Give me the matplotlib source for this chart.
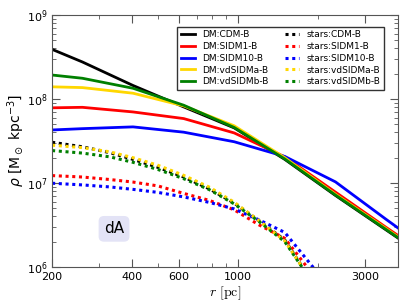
"""Density profiles of DM and stars for the dA halo."""
import matplotlib
matplotlib.use('Agg')
import matplotlib.pyplot as plt
import numpy as np

# radii [pc] and log10 densities [Msun kpc^-3]
R_DM = [168, 260, 403, 625, 968, 1500, 2327, 3607, 5590]
DM = {
    'CDM-B':     [8.69, 8.44, 8.16, 7.905, 7.655, 7.28, 6.85, 6.44, 6.03],
    'SIDM1-B':   [7.89, 7.90, 7.845, 7.766, 7.595, 7.31, 6.89, 6.47, 6.06],
    'SIDM10-B':  [7.62, 7.646, 7.667, 7.604, 7.49, 7.315, 7.012, 6.566, 6.13],
    'vdSIDMa-B': [8.15, 8.135, 8.068, 7.917, 7.68, 7.30, 6.865, 6.455, 6.04],
    'vdSIDMb-B': [8.31, 8.246, 8.127, 7.925, 7.66, 7.285, 6.855, 6.445, 6.035],
}

R_ST = [200, 260, 330, 403, 500, 625, 780, 968, 1200, 1500, 1900, 2327]
STARS = {
    'CDM-B':     [7.484, 7.43, 7.36, 7.28, 7.185, 7.07, 6.93, 6.76, 6.55, 6.32, 5.82, 5.5],
    'SIDM1-B':   [7.087, 7.07, 7.04, 7.01, 6.964, 6.875, 6.792, 6.679, 6.50, 6.34, 5.92, 5.6],
    'SIDM10-B':  [6.996, 6.976, 6.952, 6.923, 6.887, 6.833, 6.768, 6.69, 6.56, 6.41, 6.01, 5.7],
    'vdSIDMa-B': [7.449, 7.42, 7.37, 7.30, 7.21, 7.09, 6.95, 6.77, 6.55, 6.31, 5.82, 5.5],
    'vdSIDMb-B': [7.385, 7.355, 7.31, 7.245, 7.16, 7.05, 6.92, 6.75, 6.54, 6.30, 5.82, 5.5],
}

COLORS = {'CDM-B': 'k', 'SIDM1-B': 'r', 'SIDM10-B': 'b',
          'vdSIDMa-B': '#ffd700', 'vdSIDMb-B': 'g'}
XTICKS = [200, 400, 600, 1000, 3000]


def plot():
    fig = plt.figure(figsize=(4.07, 3.05), dpi=100)
    ax = fig.add_axes([0.128, 0.125, 0.85, 0.826])

    # DM first, then stars, so the legend fills column by column
    for name, vals in DM.items():
        ax.plot(R_DM, 10**np.array(vals), color=COLORS[name], lw=2,
                label='DM:' + name)
    for name, vals in STARS.items():
        ax.plot(R_ST, 10**np.array(vals), color=COLORS[name], lw=2.2,
                linestyle=(0, (1, 1.2)), label='stars:' + name)

    ax.set_xscale('log')
    ax.set_yscale('log')
    ax.set_xlim(200, 4000)
    ax.set_ylim(1e6, 1e9)
    ax.set_xticks(XTICKS)
    ax.set_xticklabels([str(t) for t in XTICKS])
    ax.xaxis.set_minor_formatter(matplotlib.ticker.NullFormatter())

    ax.tick_params(which='both', direction='in', top=True, right=True,
                   labelsize=8, color='#555555')
    ax.tick_params(which='major', length=6)
    ax.tick_params(which='minor', length=3)
    for sp in ax.spines.values():
        sp.set_color('#555555')

    ax.set_xlabel(r'$r\ [\mathrm{pc}]$', fontsize=10, math_fontfamily='cm',
                  labelpad=2)
    ax.set_ylabel(r'$\rho$ [M$_\odot$ kpc$^{-3}$]', fontsize=10, labelpad=0)

    ax.text(0.179, 0.151, 'dA', transform=ax.transAxes, fontsize=11,
            ha='center', va='center',
            bbox=dict(boxstyle='round,pad=0.35', facecolor='#e3e3f6',
                      edgecolor='none'))

    leg = ax.legend(ncol=2, fontsize=6.5, loc='upper right',
                    bbox_to_anchor=(0.96, 0.953), borderaxespad=0,
                    fancybox=False, framealpha=1, handlelength=1.6,
                    columnspacing=1.8, labelspacing=0.3, handletextpad=0.8,
                    borderpad=0.4)
    leg.get_frame().set_edgecolor('#333333')

    fig.savefig('out.png', dpi=100)


if __name__ == '__main__':
    plot()
